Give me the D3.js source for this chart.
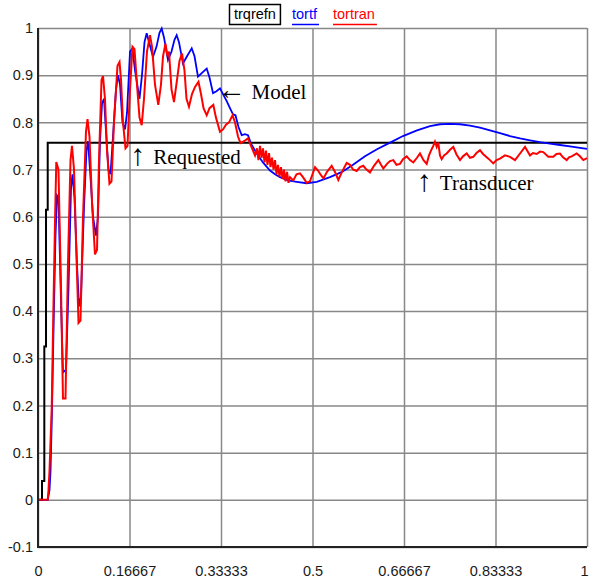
<!DOCTYPE html>
<html><head><meta charset="utf-8">
<script src="https://cdn.jsdelivr.net/npm/d3@7"></script>
<style>html,body{margin:0;padding:0;background:#fff;} svg{display:block;}</style>
</head><body>
<script>
// ---- data ----
const xTicks = [0, 0.16667, 0.33333, 0.5, 0.66667, 0.83333, 1];
const xTickLabels = ["0", "0.16667", "0.33333", "0.5", "0.66667", "0.83333", "1"];
const yTicks = [-0.1, 0, 0.1, 0.2, 0.3, 0.4, 0.5, 0.6, 0.7, 0.8, 0.9, 1];
const yTickLabels = ["-0.1", "0", "0.1", "0.2", "0.3", "0.4", "0.5", "0.6", "0.7", "0.8", "0.9", "1"];
const seriesNames = ["trqrefn", "tortf", "tortran"];
const seriesColors = ["#000000", "#0000ff", "#ff0000"];

// trqrefn (requested)
const refT = [0, 0.0073, 0.0115, 0.0146, 0.0177, 1];
const refV = [0, 0.04, 0.325, 0.615, 0.757, 0.757];

// tortf (model)
const modelT = [0,0.0177,0.0209,0.0228,0.0255,0.0286,0.0319,0.0346,0.0373,0.0419,0.0455,0.0510,0.0556,0.0601,0.0628,0.0665,0.0710,0.0747,0.0783,0.0838,0.0883,0.0911,0.0947,0.1002,0.1056,0.1093,0.1129,0.1166,0.1202,0.1239,0.1284,0.1321,0.1366,0.1421,0.1457,0.1494,0.1539,0.1585,0.1621,0.1676,0.1721,0.1767,0.1849,0.1894,0.1940,0.1980,0.2022,0.2095,0.2158,0.2213,0.2253,0.2295,0.2368,0.2432,0.2486,0.2526,0.2568,0.2641,0.2714,0.2800,0.2851,0.2914,0.2987,0.3073,0.3124,0.3188,0.3251,0.3315,0.3370,0.3437,0.3497,0.3552,0.3597,0.3652,0.3710,0.3770,0.3825,0.3880,0.3984,0.4098,0.4226,0.4317,0.4408,0.4554,0.4712,0.4894,0.5077,0.5319,0.5537,0.5738,0.5956,0.6175,0.6412,0.6648,0.6903,0.7140,0.7322,0.7505,0.7687,0.7869,0.8051,0.8233,0.8415,0.8597,0.8780,0.8962,0.9144,0.9326,0.9508,0.9690,0.9872,1.0];
const modelV = [0,0,0.02,0.06,0.19,0.38,0.56,0.645,0.64,0.42,0.27,0.276,0.45,0.66,0.69,0.64,0.5,0.41,0.43,0.62,0.74,0.76,0.70,0.6,0.56,0.60,0.76,0.84,0.85,0.78,0.70,0.69,0.77,0.87,0.9,0.88,0.80,0.785,0.82,0.95,0.957,0.91,0.85,0.90,0.97,0.989,0.97,0.939,0.96,0.99,0.999,0.98,0.932,0.95,0.975,0.985,0.97,0.925,0.94,0.957,0.94,0.897,0.905,0.914,0.895,0.862,0.866,0.872,0.86,0.845,0.83,0.817,0.815,0.79,0.773,0.775,0.773,0.755,0.734,0.715,0.698,0.69,0.684,0.677,0.674,0.671,0.674,0.684,0.695,0.71,0.728,0.743,0.757,0.771,0.783,0.792,0.796,0.797,0.796,0.793,0.789,0.783,0.777,0.771,0.766,0.762,0.758,0.755,0.752,0.749,0.746,0.744];

// tortran (transducer)
const transT = [0,0.0177,0.0191,0.0209,0.0250,0.0279,0.0310,0.0333,0.0373,0.0419,0.0455,0.0501,0.0546,0.0592,0.0619,0.0656,0.0692,0.0738,0.0774,0.0820,0.0874,0.0902,0.0938,0.0984,0.1038,0.1075,0.1111,0.1157,0.1184,0.1220,0.1257,0.1302,0.1339,0.1384,0.1448,0.1485,0.1512,0.1548,0.1594,0.1630,0.1676,0.1721,0.1758,0.1803,0.1849,0.1889,0.1931,0.1985,0.2040,0.2077,0.2131,0.2191,0.2240,0.2277,0.2322,0.2359,0.2386,0.2432,0.2477,0.2532,0.2577,0.2623,0.2668,0.2705,0.2750,0.2805,0.2860,0.2923,0.2969,0.3015,0.3073,0.3124,0.3193,0.3242,0.3315,0.3370,0.3424,0.3479,0.3543,0.3588,0.3643,0.3689,0.3752,0.3825,0.3880,0.3953,0.3989,0.4016,0.4044,0.4071,0.4098,0.4126,0.4153,0.4180,0.4208,0.4235,0.4262,0.4290,0.4317,0.4344,0.4372,0.4399,0.4426,0.4454,0.4481,0.4508,0.4536,0.4563,0.4590,0.4650,0.4709,0.4772,0.4827,0.4894,0.4954,0.5000,0.5046,0.5100,0.5155,0.5200,0.5264,0.5350,0.5410,0.5470,0.5537,0.5623,0.5683,0.5738,0.5805,0.5865,0.5925,0.5984,0.6047,0.6120,0.6199,0.6248,0.6290,0.6357,0.6412,0.6472,0.6530,0.6594,0.6648,0.6716,0.6776,0.6836,0.6903,0.6958,0.7022,0.7080,0.7122,0.7158,0.7200,0.7231,0.7262,0.7291,0.7322,0.7353,0.7395,0.7444,0.7505,0.7565,0.7623,0.7687,0.7741,0.7809,0.7869,0.7929,0.7987,0.8051,0.8106,0.8173,0.8233,0.8293,0.8352,0.8415,0.8506,0.8597,0.8689,0.8780,0.8871,0.8962,0.9016,0.9084,0.9144,0.9204,0.9295,0.9386,0.9444,0.9508,0.9563,0.9630,0.9672,0.9721,0.9812,0.9872,0.9933,1.0];
const transV = [0,0,0.02,0.06,0.195,0.395,0.59,0.716,0.70,0.45,0.215,0.215,0.5,0.72,0.75,0.70,0.55,0.375,0.38,0.6,0.78,0.807,0.77,0.63,0.52,0.53,0.72,0.89,0.898,0.85,0.74,0.67,0.675,0.8,0.92,0.928,0.89,0.80,0.745,0.75,0.87,0.96,0.955,0.88,0.81,0.794,0.85,0.95,0.985,0.96,0.88,0.837,0.88,0.94,0.967,0.94,0.95,0.87,0.843,0.89,0.93,0.946,0.91,0.85,0.833,0.86,0.875,0.886,0.86,0.83,0.815,0.83,0.837,0.81,0.78,0.785,0.795,0.80,0.815,0.80,0.77,0.756,0.76,0.766,0.75,0.73,0.745,0.72,0.75,0.725,0.745,0.715,0.74,0.71,0.735,0.705,0.725,0.70,0.72,0.69,0.71,0.685,0.705,0.68,0.70,0.675,0.695,0.672,0.684,0.677,0.69,0.692,0.684,0.672,0.675,0.69,0.705,0.698,0.688,0.681,0.695,0.708,0.695,0.678,0.695,0.714,0.71,0.70,0.697,0.705,0.708,0.70,0.694,0.708,0.72,0.71,0.702,0.712,0.718,0.72,0.71,0.712,0.722,0.728,0.72,0.715,0.725,0.734,0.72,0.712,0.73,0.74,0.75,0.759,0.748,0.757,0.73,0.722,0.73,0.734,0.742,0.748,0.732,0.72,0.728,0.734,0.725,0.727,0.735,0.741,0.733,0.726,0.72,0.713,0.72,0.723,0.73,0.727,0.72,0.734,0.748,0.73,0.735,0.733,0.738,0.737,0.727,0.727,0.733,0.734,0.726,0.72,0.726,0.728,0.734,0.728,0.72,0.724];

// annotation texts (data-space anchors for the word; arrow drawn just before it)
const notes = [
  {arrow: "\u2190", text: "Model", t: 0.389, v: 0.849, arrowSize: 28, arrowGap: 6, arrowDy: 0},
  {arrow: "\u2191", text: "Requested", t: 0.210, v: 0.711, arrowSize: 30, arrowGap: 8, arrowDy: 1},
  {arrow: "\u2191", text: "Transducer", t: 0.732, v: 0.656, arrowSize: 30, arrowGap: 8, arrowDy: 1}
];

// ---- drawing ----
const W = 589, H = 583;
const pL = 38, pR = 587, pT = 28, pB = 547;
const svg = d3.select("body").append("svg").attr("width", W).attr("height", H);
const x = d3.scaleLinear().domain([0, 1]).range([pL, pR]);
const y = d3.scaleLinear().domain([-0.1, 1]).range([pB, pT]);
const tickFont = "'Liberation Sans', Arial, sans-serif";
const serif = "'Liberation Serif', 'Times New Roman', serif";

// y axis with grid
const yAxis = svg.append("g").attr("transform", `translate(${pL},0)`)
  .call(d3.axisLeft(y).tickValues(yTicks).tickFormat((d, i) => yTickLabels[i])
    .tickSize(-(pR - pL)).tickPadding(5));
yAxis.select(".domain").remove();
yAxis.selectAll(".tick line").attr("stroke", "#888").attr("stroke-width", 1.5);
yAxis.selectAll(".tick text").attr("font-family", tickFont).attr("font-size", 14.5).attr("fill", "#1a1a1a");

// x axis with grid
const xAxis = svg.append("g").attr("transform", `translate(0,${pB})`)
  .call(d3.axisBottom(x).tickValues(xTicks).tickFormat((d, i) => xTickLabels[i])
    .tickSize(-(pB - pT)).tickPadding(19));
xAxis.select(".domain").remove();
xAxis.selectAll(".tick line").attr("stroke", "#888").attr("stroke-width", 1.5);
xAxis.selectAll(".tick text").attr("font-family", tickFont).attr("font-size", 14.5).attr("fill", "#1a1a1a")
  .attr("dx", (d, i) => i === xTicks.length - 1 ? -3 : 0);

// clip
svg.append("clipPath").attr("id", "plotclip").append("rect")
  .attr("x", pL).attr("y", pT - 2).attr("width", pR - pL + 2).attr("height", pB - pT + 2);

const plot = svg.append("g").attr("clip-path", "url(#plotclip)");
const mk = (T, V) => d3.range(Math.min(T.length, V.length)).map(i => [T[i], V[i]]);
const stepLine = d3.line().x(d => x(d[0])).y(d => y(d[1])).curve(d3.curveStepAfter);
const linLine = d3.line().x(d => x(d[0])).y(d => y(d[1]));

plot.append("path").datum(mk(refT, refV)).attr("d", stepLine)
  .attr("fill", "none").attr("stroke", seriesColors[0]).attr("stroke-width", 2);
plot.append("path").datum(mk(modelT, modelV)).attr("d", linLine)
  .attr("fill", "none").attr("stroke", seriesColors[1]).attr("stroke-width", 1.8);
plot.append("path").datum(mk(transT, transV)).attr("d", linLine)
  .attr("fill", "none").attr("stroke", seriesColors[2]).attr("stroke-width", 2);

// axes frame (left and bottom dark)
svg.append("line").attr("x1", pL).attr("x2", pL).attr("y1", pT).attr("y2", pB + 1)
  .attr("stroke", "#222").attr("stroke-width", 2);
svg.append("line").attr("x1", pL - 1).attr("x2", pR).attr("y1", pB).attr("y2", pB)
  .attr("stroke", "#222").attr("stroke-width", 2);

// annotations
const ng = svg.selectAll("g.note").data(notes).enter().append("g").attr("class", "note");
ng.append("text")
  .attr("x", d => x(d.t)).attr("y", d => y(d.v))
  .attr("font-family", serif).attr("font-size", 21).attr("fill", "#000").text(d => d.text);
ng.append("text")
  .attr("x", d => x(d.t) - d.arrowGap).attr("y", d => y(d.v) + d.arrowDy)
  .attr("text-anchor", "end")
  .attr("font-family", serif).attr("font-size", d => d.arrowSize).attr("fill", "#000").text(d => d.arrow);

// legend
const leg = svg.append("g").attr("font-family", tickFont).attr("font-size", 14.5);
const legX = [234, 292, 333];
seriesNames.forEach((name, i) => {
  const tx = leg.append("text").attr("x", legX[i]).attr("y", 19).attr("fill", seriesColors[i]).text(name);
  const w = tx.node().getComputedTextLength();
  if (i === 0) {
    leg.append("rect").attr("x", legX[i] - 4.5).attr("y", 4.5).attr("width", w + 9).attr("height", 20)
      .attr("fill", "none").attr("stroke", "#000").attr("stroke-width", 1.5);
  } else {
    leg.append("line").attr("x1", legX[i]).attr("x2", legX[i] + w + 2).attr("y1", 24.5).attr("y2", 24.5)
      .attr("stroke", seriesColors[i]).attr("stroke-width", 1.5);
  }
});
</script>
</body></html>
